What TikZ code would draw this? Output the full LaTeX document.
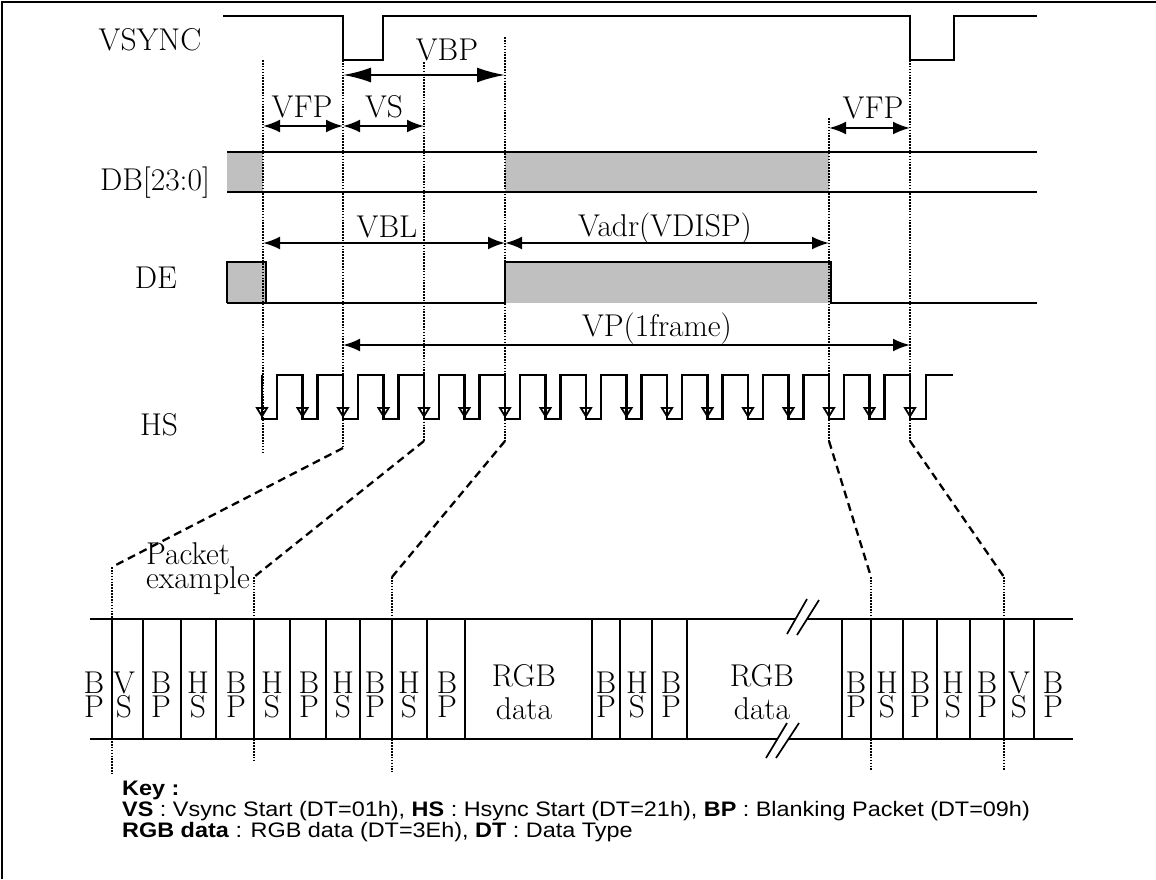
\documentclass[tikz,border=0pt]{standalone}
\usepackage{fontspec}
\newfontfamily\keyfont[FakeStretch=1.115]{Liberation Sans}
\usetikzlibrary{arrows.meta}
\definecolor{fillgray}{RGB}{192,192,192}
\begin{document}
\begin{tikzpicture}[x=1pt,y=-1pt,
  sig/.style={line width=2.4pt},
  dotv/.style={line width=1.6pt, dash pattern=on 1.6pt off 1.3pt},
  dashc/.style={line width=2.3pt, dash pattern=on 8pt off 5pt},
  dimA/.style={line width=2.2pt, {Latex[length=17pt,width=13pt]}-{Latex[length=17pt,width=13pt]}},
  dimB/.style={line width=2.2pt, {Latex[length=28pt,width=15pt]}-{Latex[length=28pt,width=15pt]}},
  lab/.style={font=\fontsize{31.5}{30}\selectfont\addfontfeature{FakeBold=0.6}, inner sep=0pt, anchor=base},
  keytxt/.style={font=\keyfont\fontsize{21}{22}\selectfont, inner sep=0pt, anchor=base west},
  pk/.style={line width=1.8pt},
  slash/.style={line width=1.7pt},
  hsarrow/.style={line width=1.8pt, -{Triangle[open,length=11pt,width=13pt]}}
]
\useasboundingbox (0,0) rectangle (1156,879);
% frame
\draw[line width=2.5pt] (2,879) -- (2,2) -- (1156,2);

% signal labels
\node[lab] (lvsync) at (150,50) {VSYNC};
\node[lab] (ldb) at (155,190) {DB[23:0]};
\node[lab] (lde) at (156,288) {DE};
\node[lab] (lhs) at (159,435) {HS};

% VSYNC
\draw[sig] (223,16) -- (343,16) -- (343,60) -- (383,60) -- (383,16) -- (910,16) -- (910,60) -- (954,60) -- (954,16) -- (1037,16);

% DB
\fill[fillgray] (227,152) rectangle (263,192);
\fill[fillgray] (505,152) rectangle (829,192);
\draw[sig] (227,152) -- (1037,152);
\draw[sig] (227,192) -- (1037,192);

% DE
\fill[fillgray] (227,262) rectangle (266,303);
\fill[fillgray] (505,262) rectangle (831,303);
\draw[sig] (227,303) -- (227,262) -- (266,262) -- (266,303) -- (505,303) -- (505,262) -- (831,262) -- (831,303) -- (1037,303);
\draw[sig] (227,303) -- (266,303);

% HS waveform
\draw[sig] (262,375) \foreach \k in {0,...,15} { -- ({262+40.5*\k},419) -- ({277+40.5*\k},419) -- ({277+40.5*\k},375) -- ({302.5+40.5*\k},375) } -- (910,419) -- (926,419) -- (926,375) -- (953,375);
\foreach \k in {0,...,16} \draw[hsarrow] ({262+40.5*\k},380) -- ({262+40.5*\k},418);

% dotted verticals (timing)
\coordinate (d1t) at (263,60);  \coordinate (d1b) at (263,452);
\coordinate (d2t) at (343,60);  \coordinate (d2b) at (343,448);
\coordinate (d3t) at (424,62);  \coordinate (d3b) at (424,441);
\coordinate (d4t) at (505,37);  \coordinate (d4b) at (505,441);
\coordinate (d5t) at (829,118); \coordinate (d5b) at (829,441);
\coordinate (d6t) at (910,60);  \coordinate (d6b) at (910,441);
\foreach \i in {1,...,6} \draw[dotv] (d\i t) -- (d\i b);

% dimension arrows
\draw[dimB] (343,75) -- (505,75);
\node[lab] (tvbp) at (447,60) {VBP};
\draw[dimA] (263,126) -- (343,126);
\node[lab] (tvfp1) at (302,117) {VFP};
\draw[dimA] (343,126) -- (424,126);
\node[lab] (tvs) at (384,117) {VS};
\draw[dimA] (829,128) -- (910,128);
\node[lab] (tvfp2) at (873,118) {VFP};
\draw[dimA] (263,243) -- (505,243);
\node[lab] (tvbl) at (387,237) {VBL};
\draw[dimA] (505,243) -- (829,243);
\node[lab] (tvadr) at (665,236) {Vadr(VDISP)};
\draw[dimA] (343,345) -- (910,345);
\node[lab] (tvp) at (657,336) {VP(1frame)};

% packet area coordinates
\coordinate (q1t) at (112,567); \coordinate (q1b) at (112,773);
\coordinate (q2t) at (254,577); \coordinate (q2b) at (254,760);
\coordinate (q3t) at (392,577); \coordinate (q3b) at (392,772);
\coordinate (q4t) at (871,577); \coordinate (q4b) at (871,770);
\coordinate (q5t) at (1004,577); \coordinate (q5b) at (1004,770);
\foreach \i in {1,...,5} \draw[dotv] (q\i t) -- (q\i b);

% dashed connectors
\draw[dashc] (d2b) -- (q1t);
\draw[dashc] (d3b) -- (q2t);
\draw[dashc] (d4b) -- (q3t);
\draw[dashc] (d5b) -- (q4t);
\draw[dashc] (d6b) -- (q5t);

% packet frame
\draw[pk] (90,619) -- (796,619);
\draw[pk] (807,619) -- (1073,619);
\draw[pk] (90,739) -- (777,739);
\draw[pk] (789,739) -- (1073,739);
\draw[slash] (787,634) -- (807,599);
\draw[slash] (797,635) -- (819,600);
\draw[slash] (766,758) -- (787,723);
\draw[slash] (776,758) -- (799,723);
\foreach \x in {112,143,181,216,254,290,326,360,392,427,465,592,620,652,687,842,871,903,937,970,1004,1034}
  \draw[pk] (\x,619) -- (\x,739);

\node[lab, anchor=base west, font=\fontsize{31.5}{16}\selectfont\addfontfeature{FakeBold=0.6}, align=left] (pex) at (146,588) {Packet\\example};

\foreach \x/\a/\b [count=\i] in {94/B/P,124/V/S,161/B/P,198/H/S,236/B/P,272/H/S,309/B/P,343/H/S,375/B/P,409/H/S,447/B/P,
  606/B/P,637/H/S,671/B/P,856/B/P,887/H/S,920/B/P,953/H/S,987/B/P,1019/V/S,1053/B/P}
{
  \node[lab] (pt\i) at (\x,693) {\a};
  \node[lab] (pb\i) at (\x,717) {\b};
}
\node[lab] (rgb1) at (524,686) {RGB};
\node[lab] (dat1) at (524,719) {data};
\node[lab] (rgb2) at (762,686) {RGB};
\node[lab] (dat2) at (762,719) {data};

% key
\node[keytxt] (key0) at (122,795) {\textbf{Key :}};
\node[keytxt] (key1) at (122,816) {\textbf{VS} : Vsync Start (DT=01h), \textbf{HS} : Hsync Start (DT=21h), \textbf{BP} : Blanking Packet (DT=09h)};
\node[keytxt] (key2) at (122,837) {\textbf{RGB data} : RGB data (DT=3Eh), \textbf{DT} : Data Type};
\end{tikzpicture}
\end{document}
